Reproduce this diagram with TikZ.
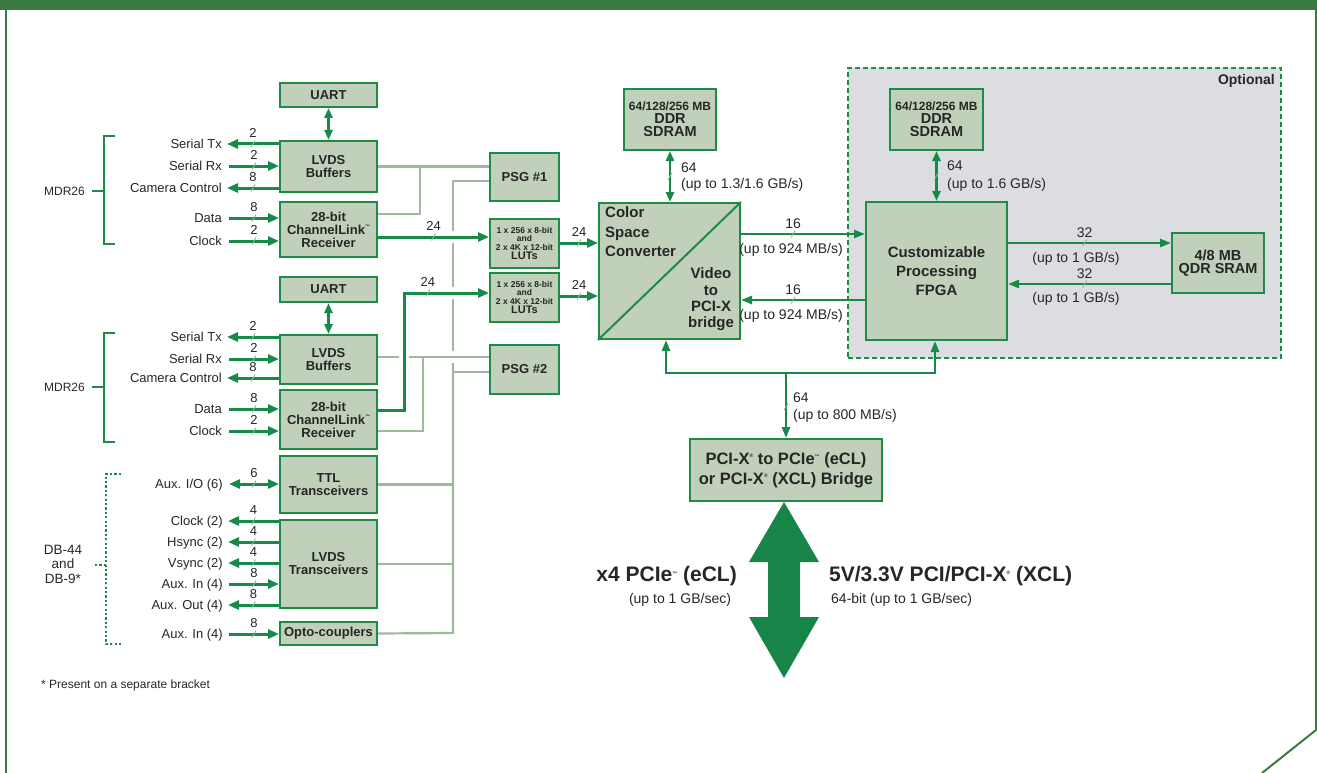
\documentclass[tikz,border=0pt]{standalone}
\usepackage{fontspec}
\setmainfont{Liberation Sans}
\usetikzlibrary{arrows.meta}
\definecolor{boxfill}{HTML}{C0D0BA}
\definecolor{boxline}{HTML}{1F8B47}
\definecolor{busc}{HTML}{178A4A}
\definecolor{slashc}{HTML}{7CC092}
\definecolor{grayc}{HTML}{9FB99D}
\definecolor{optfill}{HTML}{DCDDE0}
\definecolor{bandc}{HTML}{3C7A44}
\definecolor{txt}{HTML}{262626}
\definecolor{bigc}{HTML}{178547}
\newcommand\myfs[2]{\fontsize{#1}{#2}\selectfont}
\newcommand\mymark[1]{\draw[slashst] ([shift={(-2pt,-8.5pt)}]#1.south) -- ([shift={(2pt,-1.5pt)}]#1.south);}
\newcommand\mymarkb[1]{\draw[slashst] ([shift={(-2pt,-8pt)}]#1.south) -- ([shift={(2pt,-1pt)}]#1.south);}
\newcommand\mymarkc[1]{\draw[slashst] ([shift={(-2pt,-3.5pt)}]#1) -- ([shift={(2pt,3.5pt)}]#1);}
\newcommand\tmk{\raisebox{6pt}{\myfs{5}{5}™}}
\newcommand\regk{\raisebox{7pt}{\myfs{5}{5}®}}
\begin{document}
\begin{tikzpicture}[x=1pt,y=-1pt,
  box/.style={draw=boxline, line width=2pt, fill=boxfill, text=txt, font=\bfseries\myfs{13}{13}, align=center, inner sep=0pt, anchor=north west},
  lbl/.style={text=txt, font=\myfs{13}{15}, inner sep=0pt, text height=9.3pt, text depth=0pt},
  num/.style={text=txt, font=\myfs{13}{13}, inner sep=0pt, above=5pt},
  num2/.style={text=txt, font=\myfs{14}{14}, inner sep=0pt, above=4.5pt},
  rate/.style={text=txt, font=\myfs{14}{16}, inner sep=0pt, text height=10pt, text depth=0pt},
  bus/.style={draw=busc, line width=3pt, -{Triangle[length=11pt,width=9pt]}},
  busdbl/.style={bus, {Triangle[length=11pt,width=9pt]}-{Triangle[length=11pt,width=9pt]}},
  bus2/.style={draw=busc, line width=2.5pt, -{Triangle[length=11pt,width=8pt]}},
  bus2dbl/.style={bus2, {Triangle[length=10pt,width=8pt]}-{Triangle[length=10pt,width=8pt]}},
  gl/.style={draw=grayc, line width=2.2pt},
  slashst/.style={draw=slashc, line width=0.9pt},
  brk/.style={draw=boxline, line width=2.2pt},
  optbox/.style={draw=boxline, line width=2pt, dash pattern=on 5pt off 3pt, fill=optfill, inner sep=0pt, anchor=north west},
  lutbox/.style={box, minimum width=69pt, minimum height=49pt, font=\bfseries\myfs{8.5}{8.2}},
  ddrbox/.style={box, minimum height=61pt, font=\bfseries\myfs{14.5}{13}}
]
\useasboundingbox (0,0) rectangle (1317,773);
% frame
\fill[bandc] (0,0) rectangle (1317,10);
\draw[bandc, line width=2.5pt] (6,10) -- (6,773);
\draw[bandc, line width=2pt] (1316,10) -- (1316,730) -- (1262,773);

% optional region
\node[optbox, minimum width=433pt, minimum height=290pt] (opt) at (847,67) {};
\node[font=\bfseries\myfs{14}{14}, text=txt, anchor=east, inner sep=0pt] (optl) at (1275,81) {Optional};

% boxes
\node[box, minimum width=97pt, minimum height=24pt] (uart1) at (279,82) {UART};
\node[box, minimum width=97pt, minimum height=51pt] (buf1) at (279,140) {LVDS\\Buffers};
\node[box, minimum width=97pt, minimum height=55pt] (cl1) at (279,201) {28-bit\\ChannelLink\tmk\\Receiver};
\node[box, minimum width=97pt, minimum height=25pt] (uart2) at (279,276) {UART};
\node[box, minimum width=97pt, minimum height=49pt] (buf2) at (279,334) {LVDS\\Buffers};
\node[box, minimum width=97pt, minimum height=59pt] (cl2) at (279,389) {28-bit\\ChannelLink\tmk\\Receiver};
\node[box, minimum width=97pt, minimum height=57pt] (ttl) at (279,455) {TTL\\Transceivers};
\node[box, minimum width=97pt, minimum height=88pt] (lvdst) at (279,519) {LVDS\\Transceivers};
\node[box, minimum width=97pt, minimum height=23pt] (opto) at (279,621) {Opto-couplers};
\node[box, minimum width=69pt, minimum height=48pt] (psg1) at (489,152) {PSG \#1};
\node[lutbox] (lut1) at (489,218) {1 x 256 x 8-bit\\and\\2 x 4K x 12-bit\\[1pt]\myfs{11}{10}LUTs};
\node[lutbox] (lut2) at (489,272) {1 x 256 x 8-bit\\and\\2 x 4K x 12-bit\\[1pt]\myfs{11}{10}LUTs};
\node[box, minimum width=69pt, minimum height=49pt] (psg2) at (489,344) {PSG \#2};
\node[ddrbox, minimum width=92pt] (ddr1) at (623,88) {\myfs{12}{13}64/128/256 MB\\DDR\\SDRAM};
\node[box, minimum width=141pt, minimum height=136pt] (csc) at (598,202) {};
\draw[draw=boxline, line width=2pt] (csc.south west) -- (csc.north east);
\node[font=\bfseries\myfs{15}{19.5}, align=left, anchor=west, text=txt, inner sep=0pt] (csct) at (605,232) {Color\\Space\\Converter};
\node[font=\bfseries\myfs{15}{16.3}, align=center, text=txt, inner sep=0pt] (cscv) at (711,299.5) {Video\\to\\PCI-X\\bridge};
\node[ddrbox, minimum width=93pt] (ddr2) at (889,88) {\myfs{12}{13}64/128/256 MB\\DDR\\SDRAM};
\node[box, minimum width=141pt, minimum height=138pt, font=\bfseries\myfs{15}{19}] (fpga) at (865,201) {Customizable\\Processing\\FPGA};
\node[box, minimum width=92pt, minimum height=60pt, font=\bfseries\myfs{14.5}{13}] (qdr) at (1171,232) {4/8 MB\\QDR SRAM};
\node[box, minimum width=192pt, minimum height=62pt, font=\bfseries\myfs{16.5}{20}] (bridge) at (689,438) {PCI-X\regk{} to PCIe\tmk{} (eCL)\\or PCI-X\regk{} (XCL) Bridge};

% gray control lines
\draw[gl] (buf1.east) -- (psg1.west |- buf1.east);
\draw[gl] (cl1.east |- 0,214) -| (420,166);
\draw[gl] (psg1.west |- 0,181) -- (453,181) -- (453,231);
\draw[gl] (453,243) -- (453,287);
\draw[gl] (453,299) -- (453,351);
\draw[gl] (453,363) -- (453,633) -- (opto.east);
\draw[gl] (ttl.east) -- (ttl.east -| 453,0);
\draw[gl] (lvdst.east) -- (lvdst.east -| 453,0);
\draw[gl] (psg2.west |- 0,372) -- (453,372);
\draw[gl] (buf2.east |- 0,357) -- (399,357);
\draw[gl] (409,357) -- (psg2.west |- 0,357);
\draw[gl] (cl2.east |- 0,431) -| (423,357);

% MDR26 group 1
\node[font=\myfs{12}{12}, text=txt, anchor=east, inner sep=0pt] (mdr1) at (85,191) {MDR26};
\draw[brk] (115,136) -- (104,136) -- (104,244) -- (115,244);
\draw[brk] (92,191) -- (104,191);
\node[lbl, anchor=east] (stx1) at (222,144) {Serial Tx};
\node[lbl, anchor=east] (srx1) at (222,166) {Serial Rx};
\node[lbl, anchor=east] (cc1) at (222,188) {Camera Control};
\node[lbl, anchor=east] (dat1) at (222,218) {Data};
\node[lbl, anchor=east] (clk1) at (222,241) {Clock};
\draw[bus] (buf1.west |- stx1.east) -- node[num, midway] (a1) {2} ([xshift=5pt]stx1.east);
\draw[bus] ([xshift=7pt]srx1.east) -- node[num, midway] (a2) {2} (buf1.west |- srx1.east);
\draw[bus] (buf1.west |- cc1.east) -- node[num, midway] (a3) {8} ([xshift=5pt]cc1.east);
\draw[bus] ([xshift=7pt]dat1.east) -- node[num, midway] (a4) {8} (cl1.west |- dat1.east);
\draw[bus] ([xshift=7pt]clk1.east) -- node[num, midway] (a5) {2} (cl1.west |- clk1.east);
\draw[bus2dbl] (uart1.south) -- (buf1.north);

% MDR26 group 2
\node[font=\myfs{12}{12}, text=txt, anchor=east, inner sep=0pt] (mdr2) at (85,387) {MDR26};
\draw[brk] (115,333) -- (104,333) -- (104,442) -- (115,442);
\draw[brk] (92,387) -- (104,387);
\node[lbl, anchor=east] (stx2) at (222,337) {Serial Tx};
\node[lbl, anchor=east] (srx2) at (222,359) {Serial Rx};
\node[lbl, anchor=east] (cc2) at (222,378) {Camera Control};
\node[lbl, anchor=east] (dat2) at (222,409) {Data};
\node[lbl, anchor=east] (clk2) at (222,431) {Clock};
\draw[bus] (buf2.west |- stx2.east) -- node[num, midway] (b1) {2} ([xshift=5pt]stx2.east);
\draw[bus] ([xshift=7pt]srx2.east) -- node[num, midway] (b2) {2} (buf2.west |- srx2.east);
\draw[bus] (buf2.west |- cc2.east) -- node[num, midway] (b3) {8} ([xshift=5pt]cc2.east);
\draw[bus] ([xshift=7pt]dat2.east) -- node[num, midway] (b4) {8} (cl2.west |- dat2.east);
\draw[bus] ([xshift=7pt]clk2.east) -- node[num, midway] (b5) {2} (cl2.west |- clk2.east);
\draw[bus2dbl] (uart2.south) -- (buf2.north);

% DB-44 group
\node[font=\myfs{13.5}{14.5}, text=txt, align=center, inner sep=0pt] (db) at (63,564) {DB-44\\and\\DB-9*};
\draw[brk, dash pattern=on 2.2pt off 2.2pt] (121,474) -- (106,474) -- (106,644) -- (121,644);
\draw[brk, dash pattern=on 2.2pt off 2.2pt] (95,565) -- (106,565);
\node[lbl, anchor=east] (aio) at (223,484) {Aux. I/O (6)};
\node[lbl, anchor=east] (ck3) at (223,521) {Clock (2)};
\node[lbl, anchor=east] (hs3) at (223,542) {Hsync (2)};
\node[lbl, anchor=east] (vs3) at (223,563) {Vsync (2)};
\node[lbl, anchor=east] (ai3) at (223,584) {Aux. In (4)};
\node[lbl, anchor=east] (ao3) at (223,605) {Aux. Out (4)};
\node[lbl, anchor=east] (ai4) at (223,634) {Aux. In (4)};
\draw[busdbl] ([xshift=6pt]aio.east) -- node[num, midway] (c1) {6} (ttl.west |- aio.east);
\draw[bus] (lvdst.west |- ck3.east) -- node[num, midway] (c2) {4} ([xshift=5pt]ck3.east);
\draw[bus] (lvdst.west |- hs3.east) -- node[num, midway] (c3) {4} ([xshift=5pt]hs3.east);
\draw[bus] (lvdst.west |- vs3.east) -- node[num, midway] (c4) {4} ([xshift=5pt]vs3.east);
\draw[bus] ([xshift=6pt]ai3.east) -- node[num, midway] (c5) {8} (lvdst.west |- ai3.east);
\draw[bus] (lvdst.west |- ao3.east) -- node[num, midway] (c6) {8} ([xshift=5pt]ao3.east);
\draw[bus] ([xshift=6pt]ai4.east) -- node[num, midway] (c7) {8} (opto.west |- ai4.east);

\node[font=\myfs{12}{12}, text=txt, anchor=west, inner sep=0pt] (foot) at (41,685) {* Present on a separate bracket};

% video buses
\draw[bus] (cl1.east |- 0,237) -- node[num, midway] (d1) {24} (lut1.west |- 0,237);
\draw[bus] (cl2.east |- 0,410) -- (404,410) -- (404,293) -- node[num, pos=0.28] (d2) {24} (lut2.west |- 0,293);
\draw[bus] (lut1.east |- 0,243) -- node[num, midway] (d3) {24} (csc.west |- 0,243);
\draw[bus] (lut2.east |- 0,296) -- node[num, midway] (d4) {24} (csc.west |- 0,296);
\foreach \n in {a1,a2,a3,a4,a5,b1,b2,b3,b4,b5,c1,c2,c3,c4,c5,c6,c7,d1,d2,d3,d4} {\mymark{\n}}

% right side buses
\draw[bus2] (csc.east |- 0,234) -- node[num2, pos=0.42] (e1) {16} (fpga.west |- 0,234);
\draw[bus2] (fpga.west |- 0,300) -- node[num2, pos=0.58] (e2) {16} (csc.east |- 0,300);
\draw[bus2] (fpga.east |- 0,243) -- node[num2, pos=0.47] (e3) {32} (qdr.west |- 0,243);
\draw[bus2] (qdr.west |- 0,284) -- node[num2, pos=0.53] (e4) {32} (fpga.east |- 0,284);
\foreach \n in {e1,e2,e3,e4} {\mymarkb{\n}}
\node[rate, anchor=east] (r1) at (843,248) {(up to 924 MB/s)};
\node[rate, anchor=east] (r2) at (843,314) {(up to 924 MB/s)};
\node[rate] (r3) at (1076,257) {(up to 1 GB/s)};
\node[rate] (r4) at (1076,297) {(up to 1 GB/s)};

\draw[bus2dbl] (ddr1.south) -- coordinate[pos=0.5] (m1) (ddr1.south |- csc.north);
\draw[bus2dbl] (ddr2.south) -- coordinate[pos=0.5] (m2) (ddr2.south |- fpga.north);
\mymarkc{m1}
\mymarkc{m2}
\node[rate, anchor=west] (r5) at (681,167) {64};
\node[rate, anchor=west] (r6) at (681,183) {(up to 1.3/1.6 GB/s)};
\node[rate, anchor=west] (r7) at (947,166) {64};
\node[rate, anchor=west] (r8) at (947,183) {(up to 1.6 GB/s)};

% bottom PCI bus
\coordinate (busL) at (666,373);
\coordinate (busR) at (935,373);
\coordinate (busM) at (786,373);
\draw[bus2, {Triangle[length=11pt,width=8pt]}-{Triangle[length=11pt,width=8pt]}] (busL |- csc.south) -- (busL) -- (busR) -- (busR |- fpga.south);
\draw[bus2] (busM) -- coordinate[pos=0.52] (m3) (busM |- bridge.north);
\mymarkc{m3}
\node[rate, anchor=west] (r9) at (793,397) {64};
\node[rate, anchor=west] (r10) at (793,414) {(up to 800 MB/s)};

% host interface arrow
\fill[bigc] (784,502) -- (819,562) -- (800,562) -- (800,617) -- (819,617) -- (784,678) -- (749,617) -- (768,617) -- (768,562) -- (749,562) -- cycle;
\node[font=\bfseries\myfs{21}{22}, text=txt, anchor=east, inner sep=0pt, text height=15pt, text depth=0pt] (h1) at (737,574) {x4 PCIe\tmk{} (eCL)};
\node[rate, anchor=center] (h2) at (680,598) {(up to 1 GB/sec)};
\node[font=\bfseries\myfs{21}{22}, text=txt, anchor=west, inner sep=0pt, text height=15pt, text depth=0pt] (h3) at (829,574) {5V/3.3V PCI/PCI-X\regk{} (XCL)};
\node[rate, anchor=west] (h4) at (831,598) {64-bit (up to 1 GB/sec)};
\end{tikzpicture}
\end{document}
